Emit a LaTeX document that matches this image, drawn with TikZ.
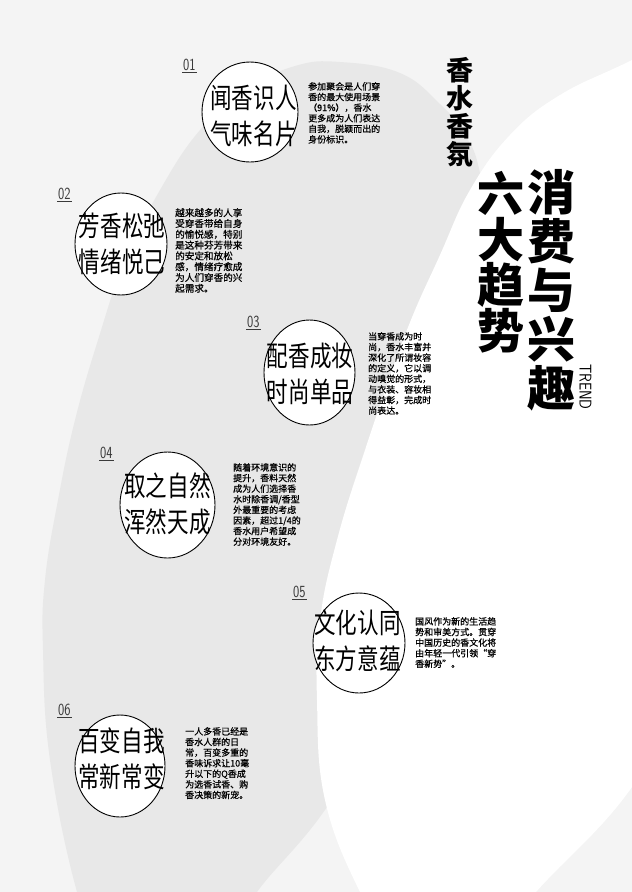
\documentclass[tikz,border=0pt]{standalone}
\usepackage{fontspec}
\usetikzlibrary{shapes.geometric}
\newfontfamily\cjkfont{Noto Sans CJK SC}
\newfontfamily\cjkpara[FakeBold=0.7]{Noto Sans CJK SC}
\newfontfamily\cjkcond[FakeStretch=0.77]{Noto Sans CJK SC}
\definecolor{bgl}{HTML}{F4F4F4}
\definecolor{bgd}{HTML}{E8E8E8}
\definecolor{numcol}{HTML}{3A3A3A}
\tikzset{
  oval/.style={ellipse, draw=black, line width=0.9pt, fill=white, inner sep=0pt},
  bigtxt/.style={font=\cjkcond\fontsize{28}{36}\selectfont, align=center, inner sep=0pt},
  para/.style={font=\cjkpara\fontsize{9}{10.6}\selectfont, align=left, inner sep=0pt, anchor=north west},
  numlab/.style={font=\sffamily\fontsize{17}{17}\selectfont, text=numcol, inner sep=0pt, anchor=base west},
  numline/.style={draw=numcol, line width=0.6pt},
  vtitle/.style={align=center, inner sep=0pt}
}
\begin{document}
\begin{tikzpicture}[x=1pt,y=-1pt]
\useasboundingbox (0,0) rectangle (632,892);
\fill[bgl] (0,0) rectangle (632,892);
\begin{scope}
\clip (0,0) rectangle (632,892);
\fill[bgd] plot[smooth cycle, tension=0.7] coordinates {
 (340,62) (295,66) (245,90) (200,130) (160,190) (125,260) (98,340) (75,420)
 (58,500) (45,580) (43,650) (50,760) (77,892) (105,960) (175,975) (235,935)
 (257,892) (327,807) (395,690) (445,540) (478,390) (492,260) (480,173)
 (465,135) (440,104) (400,73)};
\fill[white] plot[smooth cycle, tension=0.7] coordinates {
 (720,15) (632,60) (560,95) (510,135) (470,190) (440,255) (405,335) (365,450)
 (337,540) (320,620) (317,700) (325,800) (360,892) (400,955) (470,970) (536,892)
 (632,787) (700,660) (745,470) (750,260) (735,90)};
\end{scope}

% titles
\node[vtitle, font=\cjkfont\bfseries\fontsize{27}{28}\selectfont] (ta) at (460,112.5) {香\\水\\香\\氛};
\node[vtitle, font=\cjkfont\bfseries\fontsize{48}{49}\selectfont] (tb) at (551,290.5) {消\\费\\与\\兴\\趣};
\node[vtitle, font=\cjkfont\bfseries\fontsize{47}{41}\selectfont] (tc) at (501,262.5) {六\\大\\趋\\势};
\node[inner sep=0pt, rotate=-90, font=\sffamily\fontsize{17}{17}\selectfont] (tr) at (585.5,387) {\scalebox{0.85}[1]{TREND}};

% circles
\node[oval, minimum width=96pt, minimum height=100pt] (c1) at (250,112) {};
\node[oval, minimum width=92pt, minimum height=102pt] (c2) at (121,244) {};
\node[oval, minimum width=91pt, minimum height=105pt] (c3) at (309.5,372.5) {};
\node[oval, minimum width=95pt, minimum height=106pt] (c4) at (167.5,505) {};
\node[oval, minimum width=92pt, minimum height=100pt] (c5) at (359,643) {};
\node[oval, minimum width=90pt, minimum height=102pt] (c6) at (120,766) {};

\node[bigtxt] (t1) at (253.5,115.5) {闻香识人\\气味名片};
\node[bigtxt] (t2) at (122,243.5) {芳香松弛\\情绪悦己};
\node[bigtxt] (t3) at (310,373.5) {配香成妆\\时尚单品};
\node[bigtxt] (t4) at (167.5,503.5) {取之自然\\浑然天成};
\node[bigtxt] (t5) at (357.5,641) {文化认同\\东方意蕴};
\node[bigtxt] (t6) at (121.5,759) {百变自我\\常新常变};

% number labels
\node[numlab] (n1) at (183,70) {\scalebox{0.78}[1]{01}};
\node[numlab] (n2) at (58,199) {\scalebox{0.78}[1]{02}};
\node[numlab] (n3) at (247,327) {\scalebox{0.78}[1]{03}};
\node[numlab] (n4) at (100,458) {\scalebox{0.78}[1]{04}};
\node[numlab] (n5) at (293,597) {\scalebox{0.78}[1]{05}};
\node[numlab] (n6) at (58,715) {\scalebox{0.78}[1]{06}};
\foreach \n in {n1,n2,n3,n4,n5,n6}
  \draw[numline] ([shift={(-1pt,-2.5pt)}]\n.base west) -- ([shift={(1pt,-2.5pt)}]\n.base east);

% paragraphs
\node[para] (p1) at (308,82) {参加聚会是人们穿\\香的最大使用场景\\（91\%），香水\\更多成为人们表达\\自我，脱颖而出的\\身份标识。};
\node[para, font=\cjkpara\fontsize{9.6}{10.8}\selectfont] (p2) at (175,208) {越来越多的人享\\受穿香带给自身\\的愉悦感，特别\\是这种芬芳带来\\的安定和放松\\感，情绪疗愈成\\为人们穿香的兴\\起需求。};
\node[para] (p3) at (368,332) {当穿香成为时\\尚，香水丰富并\\深化了所谓妆容\\的定义，它以调\\动嗅觉的形式，\\与衣装、容妆相\\得益彰，完成时\\尚表达。};
\node[para] (p4) at (233,463) {随着环境意识的\\提升，香料天然\\成为人们选择香\\水时除香调/香型\\外最重要的考虑\\因素，超过1/4的\\香水用户希望成\\分对环境友好。};
\node[para] (p5) at (415,617) {国风作为新的生活趋\\势和审美方式。贯穿\\中国历史的香文化将\\由年轻一代引领“穿\\香新势”。};
\node[para] (p6) at (185,727) {一人多香已经是\\香水人群的日\\常，百变多重的\\香味诉求让10毫\\升以下的Q香成\\为选香试香、购\\香决策的新宠。};
\end{tikzpicture}
\end{document}
